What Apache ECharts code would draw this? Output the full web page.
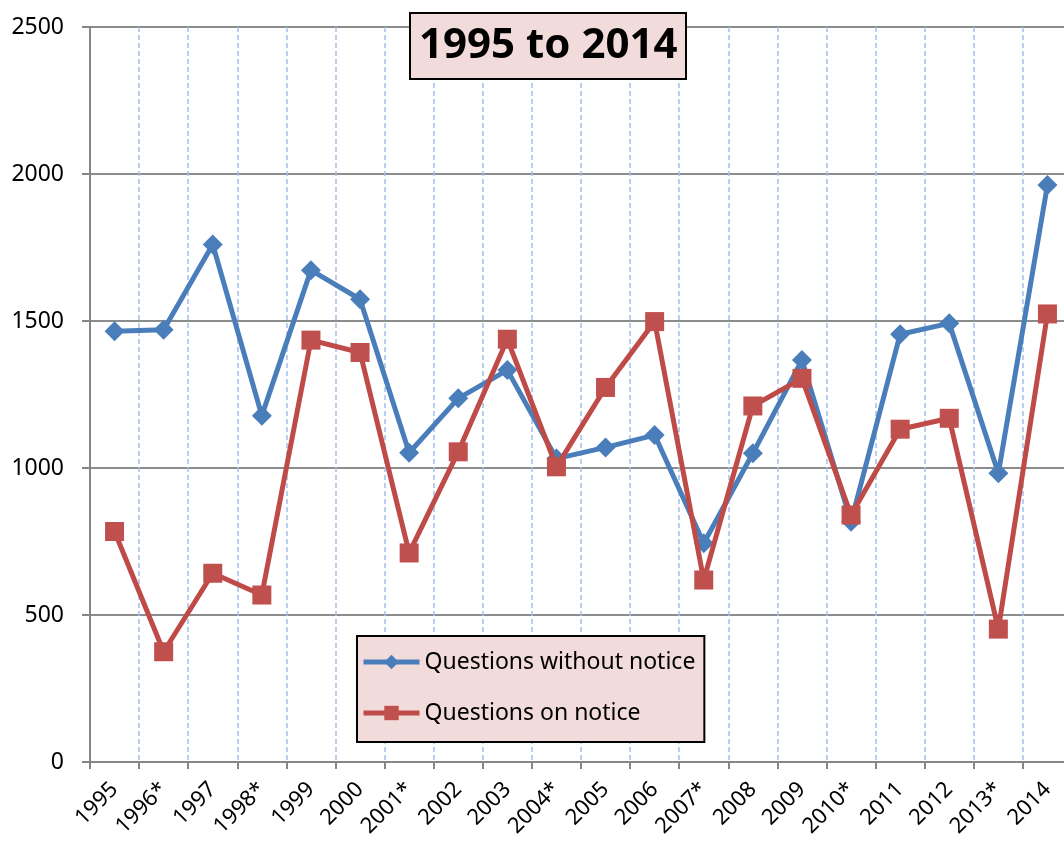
<!DOCTYPE html>
<html>
<head>
<meta charset="utf-8">
<script src="https://cdn.jsdelivr.net/npm/echarts@6/dist/echarts.min.js"></script>
<style>html,body{margin:0;padding:0;background:#fff;overflow:hidden}#c{width:1072px;height:843px}</style>
</head>
<body>
<div id="c"></div>
<script>
const years = ['1995','1996*','1997','1998*','1999','2000','2001*','2002','2003','2004*','2005','2006','2007*','2008','2009','2010*','2011','2012','2013*','2014'];
const withoutNotice = [1465,1470,1760,1178,1673,1574,1052,1237,1333,1032,1070,1112,744,1050,1367,817,1455,1492,982,1963];
const onNotice = [784,375,642,568,1435,1393,711,1055,1438,1004,1274,1498,619,1211,1305,840,1132,1169,452,1524];
const yTicks = {min: 0, max: 2500, interval: 500};

const chart = echarts.init(document.getElementById('c'));
const font = '"Noto Sans", "Open Sans", sans-serif';
chart.setOption({
  animation: false,
  backgroundColor: '#fff',
  title: {
    text: '1995 to 2014',
    left: 410, top: 13,
    padding: [8, 9, 8, 9],
    backgroundColor: '#F2DCDB',
    borderColor: '#000', borderWidth: 2,
    textStyle: {fontFamily: font, fontWeight: 'bold', fontSize: 42, color: '#000', lineHeight: 50}
  },
  legend: {
    orient: 'vertical',
    left: 357, top: 636,
    padding: [12, 9, 15, 4],
    itemGap: 23,
    itemWidth: 56, itemHeight: 18,
    backgroundColor: '#F2DCDB',
    borderColor: '#000', borderWidth: 2,
    lineStyle: {width: 5},
    textStyle: {fontFamily: font, fontSize: 23, color: '#000', lineHeight: 28},
    data: ['Questions without notice', 'Questions on notice']
  },
  grid: {left: 90, top: 27, right: 0, bottom: 81, containLabel: false},
  xAxis: {
    type: 'category',
    data: years,
    boundaryGap: true,
    axisLine: {show: true, lineStyle: {color: '#868686', width: 2}},
    axisTick: {show: true, length: 7, lineStyle: {color: '#868686', width: 2}},
    axisLabel: {rotate: 45, fontFamily: font, fontSize: 22, color: '#000', margin: 24, interval: 0},
    splitLine: {show: true, lineStyle: {color: '#A4BFEA', width: 1.5, type: [5, 3]}}
  },
  yAxis: {
    type: 'value',
    min: yTicks.min, max: yTicks.max, interval: yTicks.interval,
    axisLine: {show: true, lineStyle: {color: '#868686', width: 2}},
    axisTick: {show: true, length: 8, lineStyle: {color: '#868686', width: 2}},
    axisLabel: {fontFamily: font, fontSize: 23, color: '#000', margin: 26, formatter: v => String(v)},
    splitLine: {show: true, lineStyle: {color: '#8C8C8C', width: 2}}
  },
  series: [
    {
      name: 'Questions without notice',
      type: 'line',
      data: withoutNotice,
      symbol: 'diamond', symbolSize: 20,
      lineStyle: {color: '#4A7EBB', width: 5},
      itemStyle: {color: '#4A7EBB'},
      z: 3
    },
    {
      name: 'Questions on notice',
      type: 'line',
      data: onNotice,
      symbol: 'rect', symbolSize: 19,
      lineStyle: {color: '#BE4B48', width: 5},
      itemStyle: {color: '#C0504D'},
      z: 4
    }
  ]
});
</script>
</body>
</html>
